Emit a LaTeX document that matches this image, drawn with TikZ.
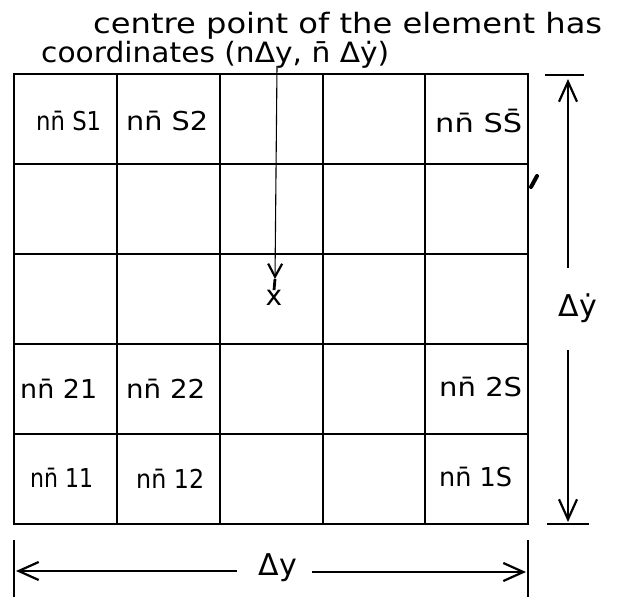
\documentclass[tikz,border=0pt]{standalone}
\usepackage{fontspec}
\setmainfont{DejaVu Sans}
\usetikzlibrary{arrows.meta}
\newcommand{\fitw}[2]{\resizebox{#1pt}{\height}{#2}}
\begin{document}
\begin{tikzpicture}[x=1pt,y=-1pt,
  gridline/.style={line width=1.8pt},
  dimline/.style={line width=1.1pt},
  dimarrow/.style={line width=1.1pt,-{Straight Barb[length=20pt,width=18pt,line width=2.2pt]}},
  ptrarrow/.style={line width=1.1pt,-{Straight Barb[length=13pt,width=14pt,line width=2.2pt]}},
  lab/.style={anchor=west,inner sep=0pt,font=\fontsize{26}{28}\selectfont},
  note/.style={anchor=base west,inner sep=0pt,font=\fontsize{28}{30}\selectfont},
  dimlab/.style={inner sep=0pt,font=\fontsize{30}{32}\selectfont}]
\useasboundingbox (0,0) rectangle (620,597);

% heading text
\node[note] (t1) at (93,33) {\fitw{509}{centre point of the element has}};
\node[note] (t2) at (41,62) {\fitw{348}{coordinates (nΔy, n̄ Δẏ)}};

% grid
\draw[gridline] (14,74) rectangle (528,524);
\foreach \x in {117,220,323,425} \draw[gridline] (\x,74) -- (\x,524);
\foreach \y in {164,254,344,434} \draw[gridline] (14,\y) -- (528,\y);

% cell labels
\node[lab] (c51) at (36,121) {\fitw{65}{nn̄ S1}};
\node[lab] (c52) at (126,121) {\fitw{82}{nn̄ S2}};
\node[lab] (c55) at (435,121) {\fitw{87}{nn̄ SS̄}};
\node[lab] (c21) at (20,389) {\fitw{77}{nn̄ 21}};
\node[lab] (c22) at (126,389) {\fitw{79}{nn̄ 22}};
\node[lab] (c2s) at (439,387) {\fitw{83}{nn̄ 2S}};
\node[lab] (c11) at (30,478) {\fitw{63}{nn̄ 11}};
\node[lab] (c12) at (136,479) {\fitw{68}{nn̄ 12}};
\node[lab] (c1s) at (439,477) {\fitw{73}{nn̄ 1S}};

% pointer to the centre point
\coordinate (ptop) at (277,66);
\coordinate (pmid) at (275,279);
\node[inner sep=0pt,font=\fontsize{28}{28}\selectfont] (cross) at (274,298) {x};
\draw[ptrarrow] (ptop) -- (pmid);
\draw[line width=2.8pt] (pmid) -- (cross.north);

% stray mark on right edge
\draw[line width=4pt,line cap=round] (531,187) -- (537,176);

% right dimension
\coordinate (vt) at (568,79);
\coordinate (vb) at (568,522);
\coordinate (vg1) at (568,268);
\coordinate (vg2) at (568,350);
\coordinate (tk1a) at (545,75); \coordinate (tk1b) at (584,75);
\coordinate (tk2a) at (547,524); \coordinate (tk2b) at (589,524);
\draw[dimline] (tk1a) -- (tk1b);
\draw[dimline] (tk2a) -- (tk2b);
\draw[dimarrow] (vg1) -- (vt);
\draw[dimarrow] (vg2) -- (vb);
\node[dimlab] (dyd) at (578,308) {Δẏ};

% bottom dimension
\coordinate (bl1) at (14,540); \coordinate (bl2) at (14,597);
\coordinate (br1) at (528,540); \coordinate (br2) at (528,597);
\draw[dimline] (bl1) -- (bl2);
\draw[dimline] (br1) -- (br2);
\coordinate (hl) at (16,571);
\coordinate (hr) at (526,572);
\coordinate (hg1) at (237,571);
\coordinate (hg2) at (312,572);
\draw[dimarrow] (hg1) -- (hl);
\draw[dimarrow] (hg2) -- (hr);
\node[dimlab] (dy) at (278,568) {Δy};
\end{tikzpicture}
\end{document}
